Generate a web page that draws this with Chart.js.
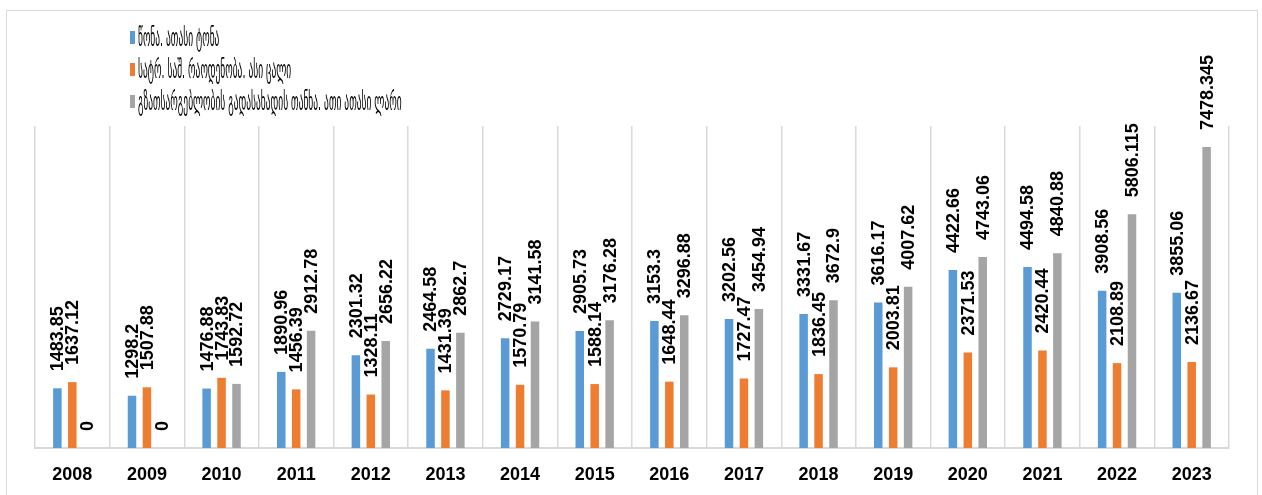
<!DOCTYPE html>
<html>
<head>
<meta charset="utf-8">
<script src="https://cdn.jsdelivr.net/npm/chart.js@4.4.1/dist/chart.umd.min.js"></script>
<style>
  html, body { margin: 0; padding: 0; background: #fff; overflow: hidden; }
  #frame { position: absolute; left: 6px; top: 10px; width: 1252px; height: 520px; border: 1px solid #d9d9d9; box-sizing: border-box; }
  #chart { position: absolute; left: 0; top: 0; }
  #legend { position: absolute; left: 130px; top: 29px; font-family: "DejaVu Sans Condensed", "DejaVu Sans", sans-serif; font-size: 25px; color: #000; }
  .item { height: 32px; display: flex; align-items: flex-start; }
  .swatch { width: 5px; height: 13px; margin-top: 2px; margin-right: 3px; flex: none; }
  .txt { display: inline-block; transform: scaleX(0.42); transform-origin: left center; white-space: nowrap; line-height: 17px; }
</style>
</head>
<body>
<div id="frame"></div>
<canvas id="chart" width="1262" height="495"></canvas>
<div id="legend"></div>
<script>
const years = ["2008", "2009", "2010", "2011", "2012", "2013", "2014", "2015", "2016", "2017", "2018", "2019", "2020", "2021", "2022", "2023"];

const weight = [1483.85, 1298.2, 1476.88, 1890.96, 2301.32, 2464.58, 2729.17, 2905.73, 3153.3, 3202.56, 3331.67, 3616.17, 4422.66, 4494.58, 3908.56, 3855.06];
const vehicles = [1637.12, 1507.88, 1743.83, 1456.39, 1328.11, 1431.39, 1570.79, 1588.14, 1648.44, 1727.47, 1836.45, 2003.81, 2371.53, 2420.44, 2108.89, 2136.67];
const roadTax = [0, 0, 1592.72, 2912.78, 2656.22, 2862.7, 3141.58, 3176.28, 3296.88, 3454.94, 3672.9, 4007.62, 4743.06, 4840.88, 5806.115, 7478.345];

const seriesNames = [
  "წონა. ათასი ტონა",
  "სატრ. საშ. რაოდენობა. ასი ცალი",
  "გზათსარგებლობის გადასახადის თანხა. ათი ათასი ლარი"
];
const seriesColors = ["#5B9BD5", "#ED7D31", "#A5A5A5"];

// rotated value labels above each bar
const valueLabels = {
  id: "valueLabels",
  afterDatasetsDraw(chart) {
    const ctx = chart.ctx;
    ctx.save();
    ctx.font = "bold 18px 'Liberation Sans', Arial, sans-serif";
    ctx.fillStyle = "#000";
    ctx.textAlign = "left";
    ctx.textBaseline = "middle";
    chart.data.datasets.forEach((ds, i) => {
      const meta = chart.getDatasetMeta(i);
      meta.data.forEach((bar, j) => {
        ctx.save();
        ctx.translate(bar.x + 1, bar.y - 17);
        ctx.rotate(-Math.PI / 2);
        ctx.fillText(String(ds.data[j]), 0, 0);
        ctx.restore();
      });
    });
    ctx.restore();
  }
};

const chart = new Chart(document.getElementById("chart"), {
  type: "bar",
  data: {
    labels: years,
    datasets: [
      { label: seriesNames[0], data: weight, backgroundColor: seriesColors[0] },
      { label: seriesNames[1], data: vehicles, backgroundColor: seriesColors[1] },
      { label: seriesNames[2], data: roadTax, backgroundColor: seriesColors[2] }
    ]
  },
  options: {
    responsive: false,
    animation: false,
    devicePixelRatio: 1,
    categoryPercentage: 0.6,
    barPercentage: 0.57,
    layout: { padding: { top: 126, left: 35, right: 33, bottom: 0 } },
    scales: {
      x: {
        afterFit: (scale) => { scale.height = 47; },
        grid: { color: "#d9d9d9", lineWidth: 1.5, drawTicks: false, offset: true },
        border: { color: "#d9d9d9", width: 2 },
        ticks: { color: "#000", padding: 16, font: { family: "'Liberation Sans', Arial, sans-serif", size: 18, weight: "bold" } }
      },
      y: { display: false, min: 0, max: 8000 }
    },
    plugins: {
      legend: { display: false },
      tooltip: { enabled: false }
    }
  },
  plugins: [valueLabels]
});

// legend built from the datasets
const legendEl = document.getElementById("legend");
chart.data.datasets.forEach(ds => {
  const item = document.createElement("div");
  item.className = "item";
  const sw = document.createElement("span");
  sw.className = "swatch";
  sw.style.background = ds.backgroundColor;
  const t = document.createElement("span");
  t.className = "txt";
  t.textContent = ds.label;
  item.appendChild(sw);
  item.appendChild(t);
  legendEl.appendChild(item);
});
</script>
</body>
</html>
